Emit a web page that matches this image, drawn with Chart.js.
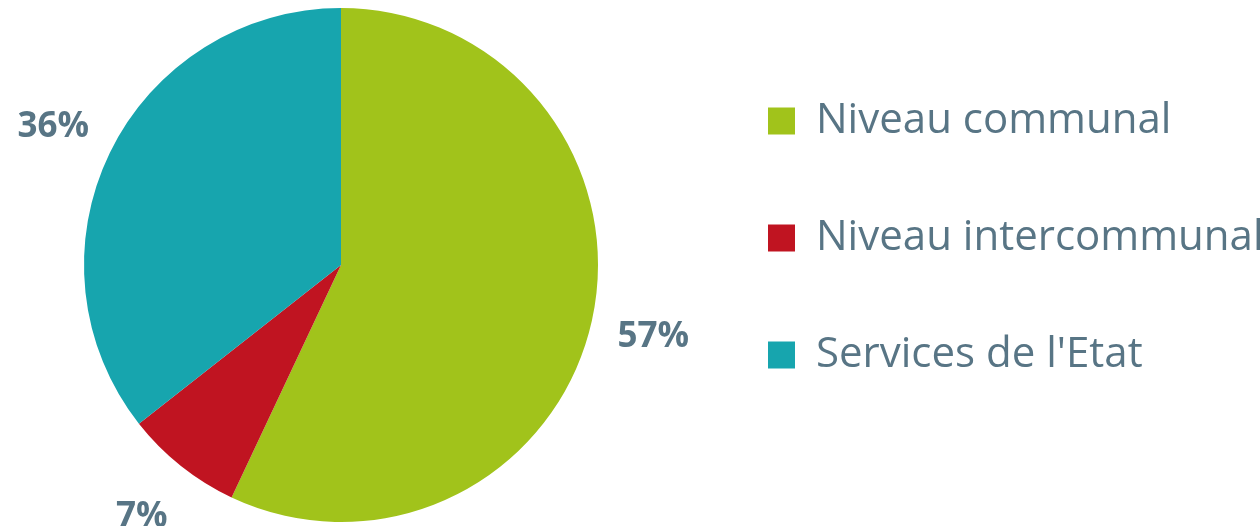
<!DOCTYPE html>
<html>
<head>
<meta charset="utf-8">
<script src="https://cdn.jsdelivr.net/npm/chart.js@4/dist/chart.umd.min.js"></script>
<style>
html,body{margin:0;padding:0;background:#fff;}
#wrap{width:1260px;height:526px;position:relative;}
</style>
</head>
<body>
<div id="wrap"><canvas id="c" width="1260" height="526"></canvas></div>
<script>
const categories = ["Niveau communal", "Niveau intercommunal", "Services de l'Etat"];
const values = [57, 7.4, 35.6];
const colors = ["#a1c31b", "#c01421", "#17a5ae"];
const textColor = "#587585";

const legendFix = {
  id: 'legendFix',
  beforeLayout(chart) {
    const lg = chart.legend;
    if (lg && !lg._patched) {
      const f = lg.fit;
      lg.fit = function () { f.call(this); this.width = 578; };
      lg._patched = true;
    }
  },
  afterLayout(chart) {
    const lg = chart.legend;
    const pad = lg.options.labels.padding;
    lg.left = 768 - pad;
    lg.right = 1260;
    lg.top -= 27;
    lg.bottom -= 27;
  }
};

const pctLabels = {
  id: 'pctLabels',
  afterDatasetsDraw(chart) {
    const ctx = chart.ctx;
    const meta = chart.getDatasetMeta(0);
    const total = values.reduce((a, b) => a + b, 0);
    ctx.save();
    ctx.font = "bold 35px 'Open Sans'";
    ctx.fillStyle = textColor;
    ctx.textAlign = 'center';
    ctx.textBaseline = 'middle';
    meta.data.forEach((arc, i) => {
      const p = arc.getProps(['x', 'y', 'startAngle', 'endAngle', 'outerRadius'], true);
      const mid = (p.startAngle + p.endAngle) / 2;
      const r = p.outerRadius + 63;
      const txt = Math.round(values[i] / total * 100) + '%';
      ctx.fillText(txt, p.x + Math.cos(mid) * r, p.y + Math.sin(mid) * r + 2);
    });
    ctx.restore();
  }
};

new Chart(document.getElementById('c'), {
  type: 'pie',
  data: {
    labels: categories,
    datasets: [{
      data: values,
      backgroundColor: colors,
      borderWidth: 0,
      hoverOffset: 0,
      offset: 0
    }]
  },
  options: {
    responsive: false,
    animation: false,
    layout: { padding: { top: 8, bottom: 4, left: 0, right: 0 } },
    plugins: {
      tooltip: { enabled: false },
      legend: {
        display: true,
        position: 'right',
        labels: {
          boxWidth: 27,
          boxHeight: 27,
          padding: 75,
          color: textColor,
          font: { family: "'Open Sans'", size: 42 }
        }
      }
    }
  },
  plugins: [legendFix, pctLabels]
});
</script>
</body>
</html>
